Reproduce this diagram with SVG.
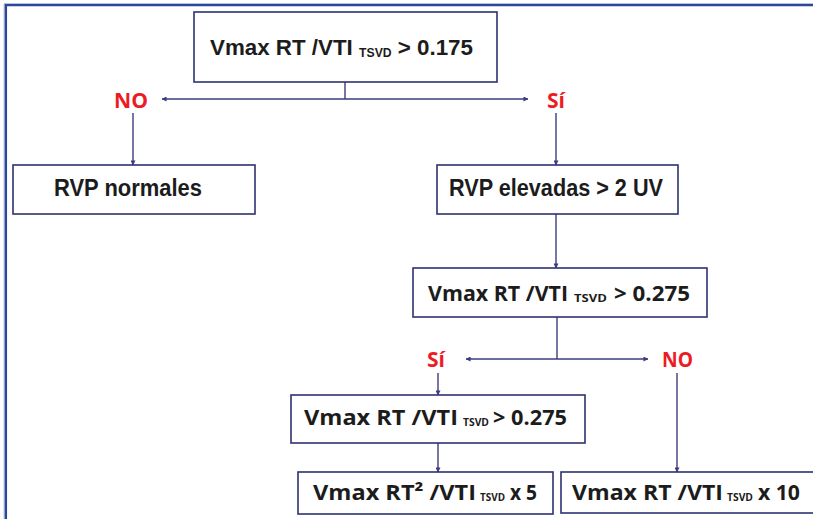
<svg xmlns="http://www.w3.org/2000/svg" width="813" height="519" viewBox="0 0 813 519">
<defs>
<style>
.box{fill:#fff;stroke:#2e3170;stroke-width:1.6}
.ln{fill:none;stroke:#3b3d7e;stroke-width:1.4}
.t{font-family:"Open Sans","Liberation Sans",sans-serif;font-weight:bold;fill:#1c1c1c}
.c{font-family:"Liberation Sans Narrow","Liberation Sans",sans-serif;font-weight:bold;fill:#1c1c1c}
.r{font-family:"Open Sans","Liberation Sans",sans-serif;font-weight:bold;fill:#ed1c24;font-size:21px}
</style>
<marker id="ah" viewBox="0 0 6 6" refX="5.5" refY="3" markerWidth="5" markerHeight="5" markerUnits="userSpaceOnUse" orient="auto-start-reverse">
<path d="M0,0 L6,3 L0,6 Z" fill="#3b3d7e"/>
</marker>
</defs>
<rect width="813" height="519" fill="#fff"/>
<g id="frame">
<path d="M4.2,519 V3.8 H813" fill="none" stroke="#9aa8d2" stroke-width="1"/>
<path d="M5.9,519 V5.2 H813" fill="none" stroke="#2a479b" stroke-width="2.3"/>
</g>
<g id="connectors">
<path class="ln" d="M345,82 V99"/>
<path class="ln" d="M162,99 H528" marker-start="url(#ah)" marker-end="url(#ah)"/>
<path class="ln" d="M133,113 V165" marker-end="url(#ah)"/>
<path class="ln" d="M556,113 V165" marker-end="url(#ah)"/>
<path class="ln" d="M556,214 V268" marker-end="url(#ah)"/>
<path class="ln" d="M557,317 V359"/>
<path class="ln" d="M466,359 H648" marker-start="url(#ah)" marker-end="url(#ah)"/>
<path class="ln" d="M438,373 V395" marker-end="url(#ah)"/>
<path class="ln" d="M677,373 V472" marker-end="url(#ah)"/>
<path class="ln" d="M438,443 V472" marker-end="url(#ah)"/>
</g>
<g id="labels">
<text class="r" x="114" y="108" textLength="34" lengthAdjust="spacingAndGlyphs">NO</text>
<text class="r" x="547" y="108" textLength="18" lengthAdjust="spacingAndGlyphs">Sí</text>
<text class="r" x="427" y="367" textLength="18" lengthAdjust="spacingAndGlyphs">Sí</text>
<text class="r" x="662" y="367" textLength="31" lengthAdjust="spacingAndGlyphs">NO</text>
</g>
<g id="node-top">
<rect class="box" x="194" y="12" width="303" height="70"/>
<text class="c" font-size="22" x="210" y="55" textLength="263" lengthAdjust="spacingAndGlyphs">Vmax RT /VTI <tspan font-size="12" dy="2">TSVD</tspan><tspan dy="-2"> &gt; 0.175</tspan></text>
</g>
<g id="node-rvp-normales">
<rect class="box" x="13" y="165" width="242" height="49"/>
<text class="c" font-size="23" x="54" y="196" textLength="148" lengthAdjust="spacingAndGlyphs">RVP normales</text>
</g>
<g id="node-rvp-elevadas">
<rect class="box" x="437" y="165" width="241" height="49"/>
<text class="c" font-size="23" x="449" y="196" textLength="214" lengthAdjust="spacingAndGlyphs">RVP elevadas &gt; 2 UV</text>
</g>
<g id="node-0275a">
<rect class="box" x="413" y="268" width="294" height="49"/>
<text class="t" font-size="21" x="428" y="301" textLength="140" lengthAdjust="spacingAndGlyphs">Vmax RT /VTI</text>
<text class="t" font-size="11" x="574" y="302" textLength="33" lengthAdjust="spacingAndGlyphs">TSVD</text>
<text class="t" font-size="21" x="614" y="301" textLength="76" lengthAdjust="spacingAndGlyphs">&gt; 0.275</text>
</g>
<g id="node-0275b">
<rect class="box" x="291" y="395" width="294" height="48"/>
<text class="t" font-size="21" x="304" y="425" textLength="154" lengthAdjust="spacingAndGlyphs">Vmax RT /VTI</text>
<text class="t" font-size="11" x="463" y="426" textLength="26" lengthAdjust="spacingAndGlyphs">TSVD</text>
<text class="t" font-size="21" x="493" y="425" textLength="74" lengthAdjust="spacingAndGlyphs">&gt; 0.275</text>
</g>
<g id="node-x5">
<rect class="box" x="298" y="472" width="255" height="42"/>
<text class="t" font-size="21" x="313" y="500" textLength="163" lengthAdjust="spacingAndGlyphs">Vmax RT² /VTI</text>
<text class="t" font-size="11" x="480" y="501" textLength="25" lengthAdjust="spacingAndGlyphs">TSVD</text>
<text class="t" font-size="21" x="510" y="500" textLength="27" lengthAdjust="spacingAndGlyphs">x 5</text>
</g>
<g id="node-x10">
<rect class="box" x="561" y="472" width="262" height="41"/>
<text class="t" font-size="21" x="572" y="500" textLength="151" lengthAdjust="spacingAndGlyphs">Vmax RT /VTI</text>
<text class="t" font-size="11" x="727" y="501" textLength="26" lengthAdjust="spacingAndGlyphs">TSVD</text>
<text class="t" font-size="21" x="758" y="500" textLength="42" lengthAdjust="spacingAndGlyphs">x 10</text>
</g>
</svg>
